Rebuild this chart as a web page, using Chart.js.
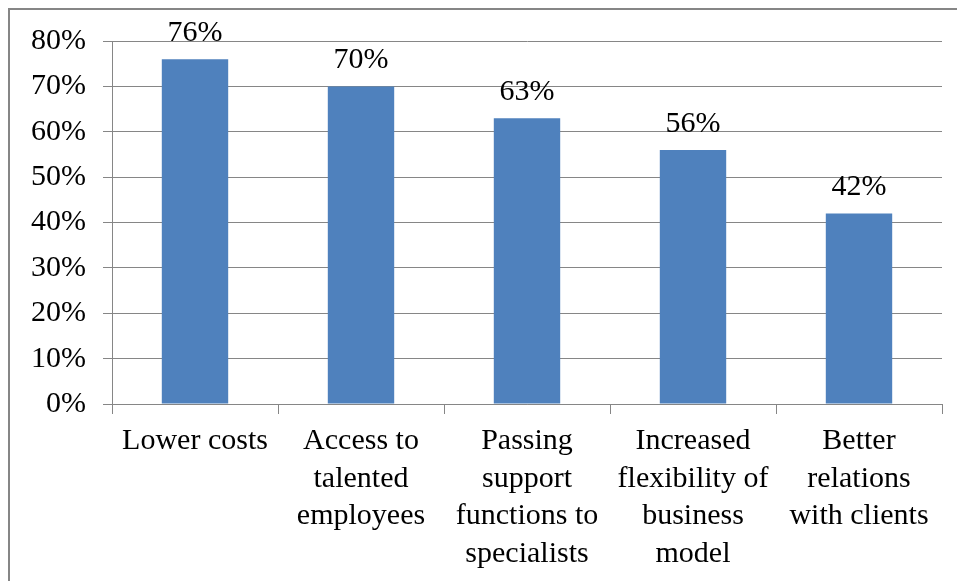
<!DOCTYPE html>
<html>
<head>
<meta charset="utf-8">
<script src="https://cdn.jsdelivr.net/npm/chart.js@4.4.1/dist/chart.umd.min.js"></script>
<style>
  html, body { margin: 0; padding: 0; background: #fff; }
  #wrap { width: 957px; height: 581px; position: relative; }
</style>
</head>
<body>
<div id="wrap"><canvas id="c" width="957" height="581"></canvas></div>
<script>
// categories and values
const categories = [
  "Lower costs",
  ["Access to", "talented", "employees"],
  ["Passing", "support", "functions to", "specialists"],
  ["Increased", "flexibility of", "business", "model"],
  ["Better", "relations", "with clients"]
];
const shares = [76, 70, 63, 56, 42];
const yTicks = [0, 10, 20, 30, 40, 50, 60, 70, 80];

const FONT = "'Liberation Serif', 'Times New Roman', serif";
const GRID = "#868686";
const BAR = "#4F81BD";

// outer frame, like the exported office chart
const framePlugin = {
  id: "frame",
  beforeDraw(chart) {
    const ctx = chart.ctx;
    ctx.save();
    ctx.fillStyle = "#fff";
    ctx.fillRect(0, 0, chart.width, chart.height);
    ctx.strokeStyle = GRID;
    ctx.lineWidth = 2;
    ctx.strokeRect(9, 9, chart.width + 20, chart.height + 20);
    ctx.restore();
  }
};

// value labels above each bar
const valueLabels = {
  id: "valueLabels",
  afterDatasetsDraw(chart) {
    const ctx = chart.ctx;
    const meta = chart.getDatasetMeta(0);
    ctx.save();
    ctx.font = "30px " + FONT;
    ctx.fillStyle = "#000";
    ctx.textAlign = "center";
    ctx.textBaseline = "alphabetic";
    meta.data.forEach((bar, i) => {
      ctx.fillText(shares[i] + "%", bar.x, bar.y - 18);
    });
    ctx.restore();
  }
};

new Chart(document.getElementById("c"), {
  type: "bar",
  data: {
    labels: categories,
    datasets: [{
      data: shares,
      backgroundColor: BAR,
      borderWidth: 0,
      categoryPercentage: 1,
      barPercentage: 0.4
    }]
  },
  options: {
    responsive: false,
    animation: false,
    events: [],
    layout: { padding: { top: 41, right: 15, bottom: 0, left: 0 } },
    plugins: {
      legend: { display: false },
      tooltip: { enabled: false }
    },
    scales: {
      x: {
        afterFit(scale) { scale.height = 177; },
        grid: {
          offset: true,
          drawOnChartArea: false,
          drawTicks: true,
          tickLength: 10,
          color: GRID,
          lineWidth: 1
        },
        border: { color: GRID, width: 1 },
        ticks: {
          autoSkip: false,
          maxRotation: 0,
          minRotation: 0,
          padding: 8,
          color: "#000",
          font: { family: FONT, size: 30, lineHeight: 1.26 }
        }
      },
      y: {
        min: 0,
        max: 80,
        afterBuildTicks(scale) {
          scale.ticks = yTicks.map(v => ({ value: v }));
        },
        afterFit(scale) { scale.width = 112; },
        grid: {
          color: GRID,
          lineWidth: 1,
          drawTicks: true,
          tickLength: 9
        },
        border: { color: GRID, width: 1 },
        ticks: {
          padding: 17,
          color: "#000",
          font: { family: FONT, size: 30 },
          callback: v => v + "%"
        }
      }
    }
  },
  plugins: [framePlugin, valueLabels]
});
</script>
</body>
</html>
